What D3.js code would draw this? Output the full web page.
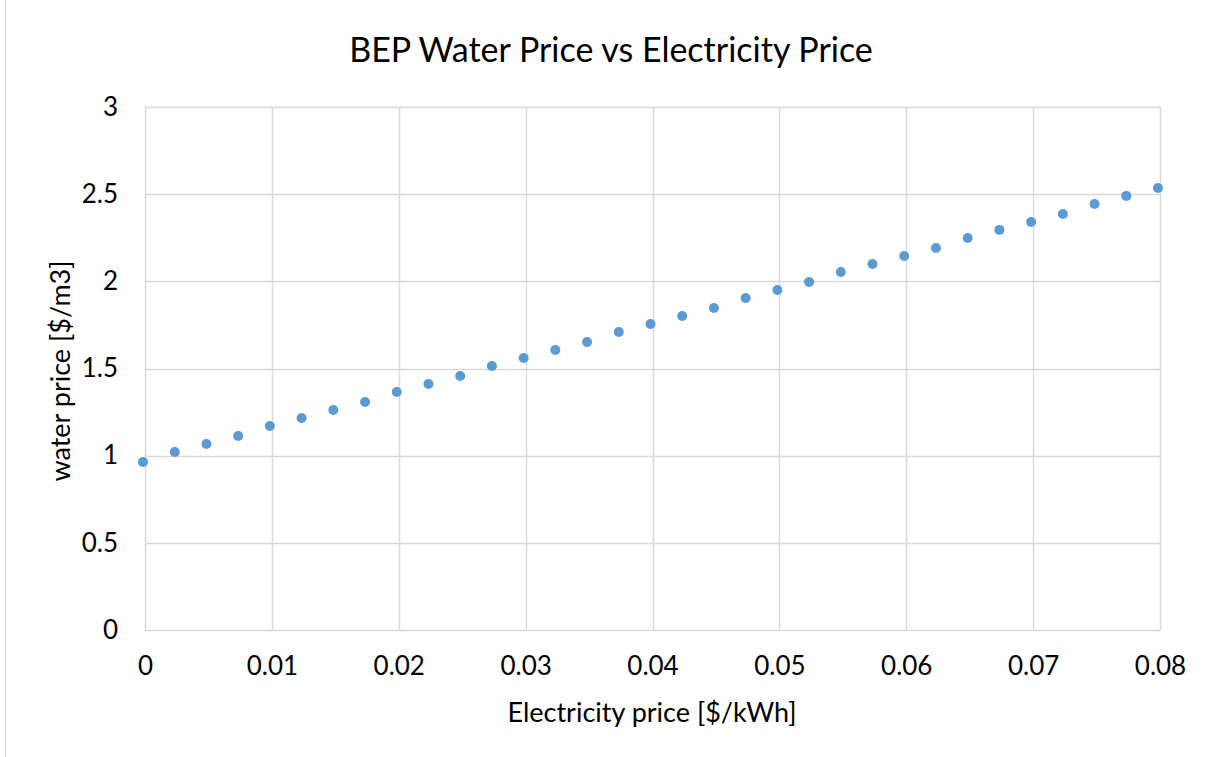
<!DOCTYPE html>
<html>
<head>
<meta charset="utf-8">
<script src="https://cdn.jsdelivr.net/npm/d3@7"></script>
<style>
  body { margin: 0; background: #fff; }
  text { font-family: Lato, "Open Sans", sans-serif; fill: #000; }
</style>
</head>
<body>
<div id="vis"></div>
<script>
var width = 1208;
var height = 757;

var margin = { top: 107, left: 145, right: 48, bottom: 127 };

// electricity price [$/kWh]
var elecPrice = [0, 0.0025, 0.005, 0.0075, 0.01, 0.0125, 0.015, 0.0175, 0.02, 0.0225,
    0.025, 0.0275, 0.03, 0.0325, 0.035, 0.0375, 0.04, 0.0425, 0.045, 0.0475,
    0.05, 0.0525, 0.055, 0.0575, 0.06, 0.0625, 0.065, 0.0675, 0.07, 0.0725,
    0.075, 0.0775, 0.08];
// BEP water price [$/m3]
var waterPrice = [0.964, 1.021, 1.067, 1.113, 1.170, 1.216, 1.262, 1.308, 1.365, 1.411,
    1.457, 1.514, 1.560, 1.606, 1.652, 1.709, 1.755, 1.801, 1.847, 1.904,
    1.950, 1.996, 2.054, 2.099, 2.145, 2.191, 2.249, 2.295, 2.340, 2.386,
    2.444, 2.490, 2.535];

var xTicks = [0, 0.01, 0.02, 0.03, 0.04, 0.05, 0.06, 0.07, 0.08];
var yTicks = [0, 0.5, 1, 1.5, 2, 2.5, 3];

var svg = d3.select("#vis")
    .append("svg")
    .attr("width", width)
    .attr("height", height);

// thin frame line on the left edge
svg.append("line")
    .attr("x1", 5.5).attr("x2", 5.5)
    .attr("y1", 0).attr("y2", 757)
    .attr("stroke", "#d9d9d9");

var w = width - margin.left - margin.right;
var h = height - margin.top - margin.bottom;

var g = svg.append("g")
    .attr("transform", "translate(" + margin.left + "," + margin.top + ")");

var xscale = d3.scaleLinear().domain([0, 0.08]).range([0, w]);
var yscale = d3.scaleLinear().domain([0, 3]).range([h, 0]);

// grid
g.selectAll(".vgrid")
    .data(xTicks)
    .enter().append("line")
    .attr("class", "vgrid")
    .attr("x1", function (d) { return Math.round(xscale(d)) + 0.5; })
    .attr("x2", function (d) { return Math.round(xscale(d)) + 0.5; })
    .attr("y1", 0).attr("y2", h)
    .attr("stroke", "#d9d9d9").attr("stroke-width", 1.5);

g.selectAll(".hgrid")
    .data(yTicks)
    .enter().append("line")
    .attr("class", "hgrid")
    .attr("y1", function (d) { return Math.round(yscale(d)) + 0.5; })
    .attr("y2", function (d) { return Math.round(yscale(d)) + 0.5; })
    .attr("x1", 0).attr("x2", w)
    .attr("stroke", "#d9d9d9").attr("stroke-width", 1.5);

// axes (labels only)
var xaxis = d3.axisBottom(xscale).tickValues(xTicks).tickSize(0).tickPadding(27)
    .tickFormat(function (d) { return d === 0 ? "0" : d3.format(".2f")(d); });
var yaxis = d3.axisLeft(yscale).tickValues(yTicks).tickSize(0).tickPadding(27)
    .tickFormat(function (d) { return String(d); });

g.append("g").attr("class", "x axis")
    .attr("transform", "translate(0," + h + ")")
    .call(xaxis)
    .call(function (s) { s.select(".domain").remove(); })
    .selectAll("text").style("font-size", "26px").style("font-family", "Lato, sans-serif");

g.append("g").attr("class", "y axis")
    .call(yaxis)
    .call(function (s) { s.select(".domain").remove(); })
    .selectAll("text").style("font-size", "26px").style("font-family", "Lato, sans-serif");

// points
g.selectAll(".dot")
    .data(elecPrice)
    .enter().append("circle")
    .attr("class", "dot")
    .attr("cx", function (d) { return xscale(d) - 2; })
    .attr("cy", function (d, i) { return yscale(waterPrice[i]); })
    .attr("r", 5)
    .attr("fill", "#5b9bd5");

// titles
svg.append("text")
    .attr("x", 611).attr("y", 62)
    .attr("text-anchor", "middle")
    .style("font-size", "34px")
    .text("BEP Water Price vs Electricity Price");

svg.append("text")
    .attr("x", 652).attr("y", 722)
    .attr("text-anchor", "middle")
    .style("font-size", "27px")
    .text("Electricity price [$/kWh]");

svg.append("text")
    .attr("transform", "translate(70,371) rotate(-90)")
    .attr("text-anchor", "middle")
    .style("font-size", "27px")
    .text("water price [$/m3]");
</script>
</body>
</html>
